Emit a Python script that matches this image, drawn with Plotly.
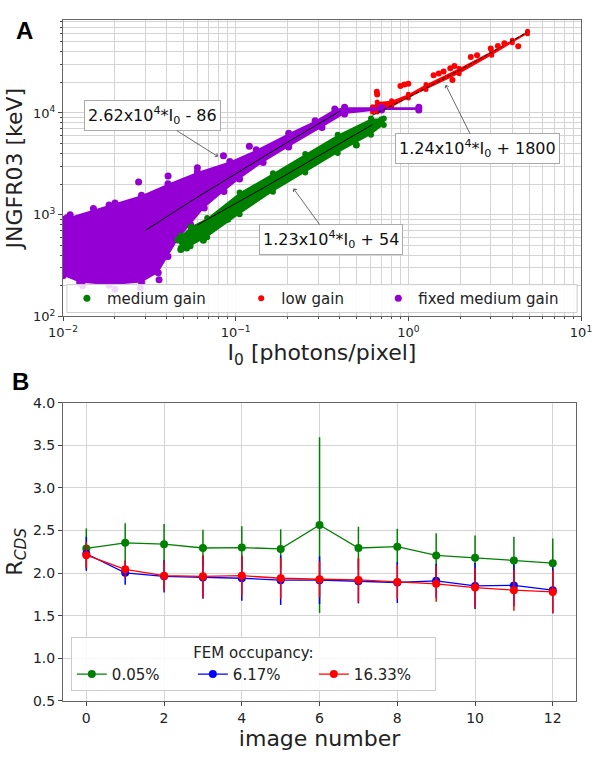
import numpy as np
import plotly.graph_objects as go

# ---------------- Panel A data ----------------
# "fixed medium gain" cloud outline (I0 [photons/pixel], energy [keV])
fmg_upper_x = [0.01, 0.01054, 0.01849, 0.02849, 0.04055, 0.06, 0.0925, 0.1316, 0.2028, 0.2884, 0.375, 0.4274, 0.7, 1.15]
fmg_upper_y = [900, 935, 1245, 1549, 2018, 2624, 3342, 4345, 6310, 8400, 10920, 11400, 11400, 11400]
fmg_lower_x = [1.15, 0.7, 0.4274, 0.316, 0.2028, 0.1442, 0.1054, 0.0855, 0.0658, 0.0548, 0.0462,
               0.04055, 0.0356, 0.02849, 0.01849, 0.01249, 0.01]
fmg_lower_y = [10700, 10700, 9780, 7200, 4640, 3266, 2248, 1693, 1166, 803, 565,
               389, 268, 215, 202, 215, 251]

# "medium gain" band
mg_x = [0.0462, 0.0481, 0.0548, 0.0684, 0.1054, 0.1644, 0.253, 0.39, 0.608, 0.721]
mg_lo = [560, 470, 490, 600, 1010, 1680, 2600, 4050, 6100, 7600]
mg_hi = [570, 620, 760, 930, 1650, 2560, 3950, 6100, 8800, 8800]

# "low gain" band
lg_x = [0.62, 0.66, 0.8, 1.0, 1.265, 1.97, 3.04, 4.0, 4.9]
lg_lo = [10200, 10200, 11400, 14000, 17000, 24300, 37000, 49000, 60000]
lg_hi = [11500, 12800, 13200, 15300, 19000, 27500, 40500, 52000, 63500]

# isolated points
fmg_pts_x = [0.011, 0.015, 0.02, 0.0274, 0.0406, 0.06, 0.085, 0.12, 0.013, 0.02, 0.028, 0.036]
fmg_pts_y = [1000, 1150, 1300, 2100, 2400, 2900, 3800, 4700, 200, 185, 190, 230]
mg_pts_x = [0.5, 0.0481, 0.052, 0.065, 0.09, 0.7]
mg_pts_y = [4850, 455, 470, 560, 900, 8600]
lg_pts_x = [0.657, 0.66, 0.9, 0.95, 1.0, 1.4, 1.5, 1.6, 1.75, 1.85, 2.3, 2.5, 3.0, 3.3, 3.6, 4.33, 1.8]
lg_pts_y = [16200, 15200, 18400, 19000, 19400, 23500, 24500, 25500, 27500, 29000, 35500, 37000, 43000, 45500, 48500, 45400, 21100]

# linear fits E = a*I0 + b (labelled in the figure) and their drawn I0 ranges
fit_names = ["fixed medium gain", "medium gain", "low gain"]
fit_a = [2.62e4, 1.23e4, 1.24e4]
fit_b = [-86, 54, 1800]
fit_x0 = [0.03, 0.06, 0.62]
fit_x1 = [0.40, 0.62, 4.87]

# ---------------- Panel B data ----------------
image_number = list(range(13))
r_005 = [2.29, 2.355, 2.34, 2.295, 2.30, 2.284, 2.564, 2.295, 2.31, 2.208, 2.18, 2.148, 2.117]
e_005 = [0.235, 0.23, 0.235, 0.215, 0.25, 0.23, 1.03, 0.25, 0.21, 0.26, 0.26, 0.28, 0.29]
r_617 = [2.227, 2.004, 1.962, 1.95, 1.94, 1.917, 1.917, 1.905, 1.89, 1.91, 1.85, 1.856, 1.80]
e_617 = [0.2, 0.14, 0.19, 0.25, 0.265, 0.29, 0.28, 0.26, 0.24, 0.2, 0.27, 0.245, 0.27]
r_1633 = [2.21, 2.045, 1.97, 1.962, 1.97, 1.94, 1.928, 1.92, 1.897, 1.875, 1.83, 1.80, 1.78]
e_1633 = [0.15, 0.1, 0.17, 0.25, 0.23, 0.24, 0.21, 0.26, 0.2, 0.21, 0.23, 0.24, 0.25]
occ_labels = ["0.05%", "6.17%", "16.33%"]

GREEN = "#008000"
RED = "#ff0000"
PURPLE = "#9400d3"
BLUE = "#0000ff"
GRID = "#d4d4d4"
FONT = "DejaVu Sans"

fig = go.Figure()

# clouds (low gain, fixed medium gain, medium gain)
fig.add_trace(go.Scatter(x=lg_x + lg_x[::-1], y=lg_hi + lg_lo[::-1], mode="markers",
                         fill="toself", fillcolor=RED, marker=dict(color=RED, size=5),
                         showlegend=False, hoverinfo="skip", xaxis="x", yaxis="y"))
fig.add_trace(go.Scatter(x=fmg_upper_x + fmg_lower_x, y=fmg_upper_y + fmg_lower_y, mode="markers",
                         fill="toself", fillcolor=PURPLE, marker=dict(color=PURPLE, size=7),
                         showlegend=False, hoverinfo="skip", xaxis="x", yaxis="y"))
fig.add_trace(go.Scatter(x=mg_x + mg_x[::-1], y=mg_hi + mg_lo[::-1], mode="markers",
                         fill="toself", fillcolor=GREEN, marker=dict(color=GREEN, size=6),
                         showlegend=False, hoverinfo="skip", xaxis="x", yaxis="y"))

# fit lines
for i in range(3):
    xs = np.geomspace(fit_x0[i], fit_x1[i], 30)
    ys = fit_a[i] * xs + fit_b[i]
    fig.add_trace(go.Scatter(x=xs, y=ys, mode="lines",
                             line=dict(color="black", width=1, dash="4px,2px" if i == 2 else "solid"),
                             showlegend=False, hoverinfo="skip", xaxis="x", yaxis="y"))

# isolated points, carrying the legend entries
fig.add_trace(go.Scatter(x=mg_pts_x, y=mg_pts_y, mode="markers", name="medium gain",
                         marker=dict(color=GREEN, size=7), legend="legend", xaxis="x", yaxis="y"))
fig.add_trace(go.Scatter(x=lg_pts_x, y=lg_pts_y, mode="markers", name="low gain",
                         marker=dict(color=RED, size=6), legend="legend2", xaxis="x", yaxis="y"))
fig.add_trace(go.Scatter(x=fmg_pts_x, y=fmg_pts_y, mode="markers", name="fixed medium gain",
                         marker=dict(color=PURPLE, size=7), legend="legend3", xaxis="x", yaxis="y"))

# Panel B
for r, e, c, lab in [(r_005, e_005, GREEN, occ_labels[0]),
                     (r_617, e_617, BLUE, occ_labels[1]),
                     (r_1633, e_1633, RED, occ_labels[2])]:
    fig.add_trace(go.Scatter(x=image_number, y=r, mode="lines+markers", name=lab,
                             line=dict(color=c, width=1.3), marker=dict(color=c, size=8),
                             error_y=dict(type="data", array=e, visible=True, color=c,
                                          thickness=1.5, width=0),
                             legend="legend4", xaxis="x2", yaxis="y2"))

# axes
minor_x = [m * 10.0 ** d for d in (-2, -1, 0) for m in range(2, 10)]
minor_y = [m * 10.0 ** d for d in (2, 3, 4) for m in range(2, 10)]
ax_common = dict(showline=True, mirror=True, linecolor="#666", linewidth=1,
                 ticks="outside", ticklen=4, tickcolor="#444", zeroline=False,
                 showgrid=True, gridcolor=GRID, gridwidth=1,
                 tickfont=dict(family=FONT, size=13, color="#222"))
minor_common = dict(showgrid=True, gridcolor=GRID, gridwidth=1, ticks="outside", ticklen=2, tickcolor="#444")

top_lo = (719 - 322) / 703
bot_hi = (719 - 411) / 703

fig.update_layout(
    width=604, height=757,
    margin=dict(l=63, r=12, t=16, b=38),
    paper_bgcolor="white", plot_bgcolor="white",
    font=dict(family=FONT, color="#222"),
    xaxis=dict(type="log", range=[-2, 1], domain=[0, 1], anchor="y",
               tickvals=[0.01, 0.1, 1, 10],
               ticktext=["10<sup>−2</sup>", "10<sup>−1</sup>", "10<sup>0</sup>", "10<sup>1</sup>"],
               minor=dict(tickvals=minor_x, **minor_common),
               title=dict(text="I<sub>0</sub> [photons/pixel]", font=dict(size=22, family=FONT), standoff=4),
               **ax_common),
    yaxis=dict(type="log", range=[2, 4.914], domain=[top_lo, 1], anchor="x",
               tickvals=[100, 1000, 10000],
               ticktext=["10<sup>2</sup>", "10<sup>3</sup>", "10<sup>4</sup>"],
               minor=dict(tickvals=minor_y, **minor_common),
               title=dict(text="JNGFR03 [keV]", font=dict(size=22, family=FONT), standoff=4),
               **ax_common),
    xaxis2=dict(range=[-0.6, 12.6], domain=[0, (587 - 63) / 529], anchor="y2",
                tickvals=list(range(0, 13, 2)),
                title=dict(text="image number", font=dict(size=22, family=FONT), standoff=4),
                **{**ax_common, "tickfont": dict(family=FONT, size=14, color="#222")}),
    yaxis2=dict(range=[0.5, 4.0], domain=[0, bot_hi], anchor="x2",
                dtick=0.5, tick0=0.5, tickformat=".1f",
                title=dict(text="R<sub><i>CDS</i></sub>", font=dict(size=22, family=FONT), standoff=4),
                **{**ax_common, "tickfont": dict(family=FONT, size=14, color="#222")}),
    legend=dict(x=4 / 529, y=(719 - 303.5) / 703, xanchor="left", yanchor="middle",
                bgcolor="rgba(0,0,0,0)", font=dict(size=15, family=FONT)),
    legend2=dict(x=(245 - 63) / 529, y=(719 - 303.5) / 703, xanchor="left", yanchor="middle",
                 bgcolor="rgba(0,0,0,0)", font=dict(size=15, family=FONT)),
    legend3=dict(x=(385 - 63) / 529, y=(719 - 303.5) / 703, xanchor="left", yanchor="middle",
                 bgcolor="rgba(0,0,0,0)", font=dict(size=15, family=FONT)),
    legend4=dict(x=8 / 529, y=(719 - 709) / 703, xanchor="left", yanchor="bottom",
                 orientation="h", entrywidth=76,
                 bgcolor="rgba(255,255,255,0.85)", bordercolor="#cccccc", borderwidth=1,
                 title=dict(text="FEM occupancy:", side="top center", font=dict(size=15, family=FONT)),
                 font=dict(size=15, family=FONT)),
    shapes=[dict(type="rect", xref="paper", yref="paper",
                 x0=4 / 529, x1=(588 - 63) / 529, y0=(719 - 318) / 703, y1=(719 - 289) / 703,
                 fillcolor="rgba(255,255,255,0.85)", line=dict(color="#cccccc", width=1), layer="above")],
)

ann_box = dict(showarrow=True, arrowhead=4, arrowsize=1, arrowwidth=0.8, arrowcolor="#444",
               bgcolor="white", bordercolor="#aaaaaa", borderwidth=1, borderpad=3,
               font=dict(size=16, family=FONT, color="#111"), xref="x", yref="y")
fig.add_annotation(text="2.62x10<sup>4</sup>*I<sub>0</sub> - 86", x=np.log10(0.079), y=3.571,
                   ax=-65, ay=-41, **ann_box)
fig.add_annotation(text="1.24x10<sup>4</sup>*I<sub>0</sub> + 1800", x=0.216, y=4.276,
                   ax=32, ay=64, **ann_box)
fig.add_annotation(text="1.23x10<sup>4</sup>*I<sub>0</sub> + 54", x=-0.665, y=3.257,
                   ax=37, ay=51, **ann_box)
fig.add_annotation(text="<b>A</b>", xref="paper", yref="paper", x=(24 - 63) / 529, y=(719 - 27) / 703,
                   xanchor="center", yanchor="middle",
                   showarrow=False, font=dict(size=24, family="Liberation Sans", color="black"))
fig.add_annotation(text="<b>B</b>", xref="paper", yref="paper", x=(20 - 63) / 529, y=(719 - 389) / 703,
                   xanchor="center", yanchor="middle",
                   showarrow=False, font=dict(size=24, family="Liberation Sans", color="black"))

fig.write_html("out.html")
